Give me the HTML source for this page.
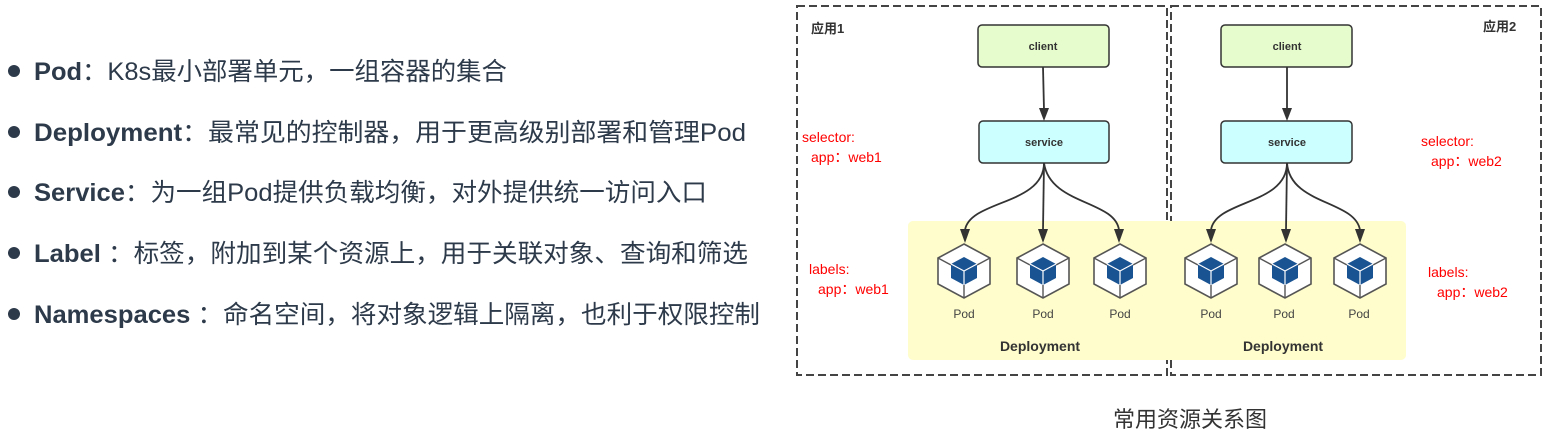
<!DOCTYPE html>
<html><head><meta charset="utf-8"><style>
html,body{margin:0;padding:0;background:#fff;width:1550px;height:437px;overflow:hidden}
svg{display:block}
</style></head><body>
<svg width="1550" height="437" viewBox="0 0 1550 437" xmlns="http://www.w3.org/2000/svg">
<defs>
<g id="pod">
<polygon points="0,-27 26,-13 26,13 0,27 -26,13 -26,-13" fill="#fff" stroke="#555" stroke-width="1.6"/>
<line x1="0" y1="13" x2="0" y2="27" stroke="#555" stroke-width="1.4"/>
<line x1="-13" y1="-6" x2="-26" y2="-13" stroke="#555" stroke-width="1.4"/>
<line x1="13" y1="-6" x2="26" y2="-13" stroke="#555" stroke-width="1.4"/>
<polygon points="0,-14 13,-7 13,7 0,14 -13,7 -13,-7" fill="#1a5392"/>
<polyline points="-13,-7 0,0 13,-7" fill="none" stroke="#fff" stroke-width="1.2"/>
<line x1="0" y1="0" x2="0" y2="14" stroke="#fff" stroke-width="1.2"/>
</g>
</defs>
<g font-family="'Liberation Sans','Noto Sans CJK SC',sans-serif" fill="#2d3a4a" font-size="25">
<g fill="#2d3a4a">
<circle cx="14" cy="71" r="6"/><circle cx="14" cy="132" r="6"/><circle cx="14" cy="192" r="6"/><circle cx="14" cy="253" r="6"/><circle cx="14" cy="314" r="6"/>
</g>
<text x="34" y="80" textLength="473" lengthAdjust="spacingAndGlyphs"><tspan font-weight="bold">Pod</tspan>：K8s最小部署单元，一组容器的集合</text>
<text x="34" y="141" textLength="712" lengthAdjust="spacingAndGlyphs"><tspan font-weight="bold">Deployment</tspan>：最常见的控制器，用于更高级别部署和管理Pod</text>
<text x="34" y="201" textLength="673" lengthAdjust="spacingAndGlyphs"><tspan font-weight="bold">Service</tspan>：为一组Pod提供负载均衡，对外提供统一访问入口</text>
<text x="34" y="262" textLength="714" lengthAdjust="spacingAndGlyphs"><tspan font-weight="bold">Label</tspan> ：标签，附加到某个资源上，用于关联对象、查询和筛选</text>
<text x="34" y="323" textLength="726" lengthAdjust="spacingAndGlyphs"><tspan font-weight="bold">Namespaces</tspan> ：命名空间，将对象逻辑上隔离，也利于权限控制</text>
<text x="1190" y="427" text-anchor="middle" font-size="22" fill="#333">常用资源关系图</text>
</g>
<rect x="797" y="6" width="370" height="369" fill="none" stroke="#444" stroke-width="2" stroke-dasharray="8,4"/>
<rect x="1171" y="6" width="370" height="369" fill="none" stroke="#444" stroke-width="2" stroke-dasharray="8,4"/>
<rect x="908" y="221" width="498" height="139" rx="5" fill="#fefdcb"/>
<g font-family="'Liberation Sans','Noto Sans CJK SC',sans-serif">
<text x="811" y="33" font-size="13" font-weight="bold" fill="#333">应用1</text>
<text x="1483" y="31" font-size="13" font-weight="bold" fill="#333">应用2</text>
<rect x="978" y="25" width="131" height="42" rx="4" fill="#e6fccc" stroke="#333" stroke-width="1.5"/>
<rect x="979" y="121" width="130" height="42" rx="4" fill="#ccffff" stroke="#333" stroke-width="1.5"/>
<rect x="1221" y="25" width="131" height="42" rx="4" fill="#e6fccc" stroke="#333" stroke-width="1.5"/>
<rect x="1221" y="121" width="131" height="42" rx="4" fill="#ccffff" stroke="#333" stroke-width="1.5"/>
<g font-size="11" font-weight="bold" fill="#333" text-anchor="middle">
<text x="1043" y="50">client</text><text x="1044" y="146">service</text>
<text x="1287" y="50">client</text><text x="1287" y="146">service</text>
</g>
<g fill="none" stroke="#333" stroke-width="1.8">
<path d="M1043,67 L1044,110"/><path d="M1287,67 L1287,110"/>
<path d="M1044,163 C1044,205 970,200 965,230"/>
<path d="M1044,163 L1043,230"/>
<path d="M1044,163 C1050,205 1115,200 1119,230"/>
<path d="M1287,163 C1287,205 1215,200 1211,230"/>
<path d="M1287,163 L1286,230"/>
<path d="M1287,163 C1290,205 1355,200 1360,230"/>
</g>
<g fill="#333">
<path d="M1039,108 L1049,108 L1044,121 Z"/><path d="M1282,108 L1292,108 L1287,121 Z"/>
<path d="M960,229 L970,229 L965,243 Z"/><path d="M1038,229 L1048,229 L1043,243 Z"/><path d="M1114,229 L1124,229 L1119,243 Z"/>
<path d="M1206,229 L1216,229 L1211,243 Z"/><path d="M1281,229 L1291,229 L1286,243 Z"/><path d="M1355,229 L1365,229 L1360,243 Z"/>
</g>
<use href="#pod" x="964" y="271"/><use href="#pod" x="1043" y="271"/><use href="#pod" x="1120" y="271"/>
<use href="#pod" x="1211" y="271"/><use href="#pod" x="1285" y="271"/><use href="#pod" x="1360" y="271"/>
<g font-size="12" fill="#444" text-anchor="middle">
<text x="964" y="318">Pod</text><text x="1043" y="318">Pod</text><text x="1120" y="318">Pod</text>
<text x="1211" y="318">Pod</text><text x="1284" y="318">Pod</text><text x="1359" y="318">Pod</text>
</g>
<g font-size="14" font-weight="bold" fill="#333" text-anchor="middle">
<text x="1040" y="351">Deployment</text><text x="1283" y="351">Deployment</text>
</g>
<g font-size="14" fill="#f00">
<text x="802" y="142">selector:</text><text x="811" y="162">app：web1</text>
<text x="809" y="274">labels:</text><text x="818" y="294">app：web1</text>
<text x="1421" y="146">selector:</text><text x="1431" y="166">app：web2</text>
<text x="1428" y="277">labels:</text><text x="1437" y="297">app：web2</text>
</g>
</g>
</svg>
</body></html>
